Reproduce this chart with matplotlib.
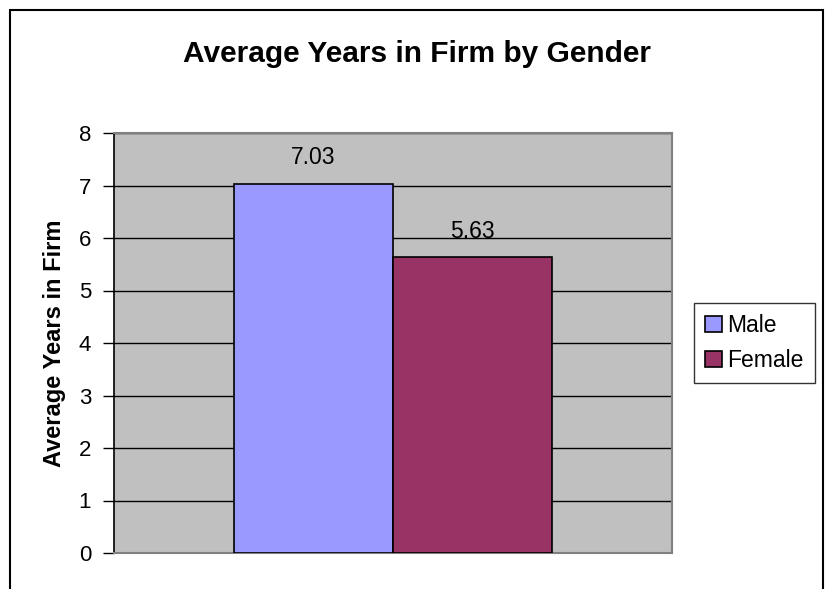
import numpy as np
import matplotlib
matplotlib.use("Agg")
import matplotlib.pyplot as plt
from matplotlib.patches import Rectangle

# data
genders = ["Male", "Female"]
avg_years = [7.03, 5.63]
bar_colors = ["#9999FF", "#993366"]
yticks = np.arange(0, 9)

plt.rcParams['font.family'] = ['Liberation Sans', 'DejaVu Sans']

fig = plt.figure(figsize=(8.25, 5.89), dpi=100)
ax = fig.add_axes([114/825, 1-553/589, (672-114)/825, (553-133)/589])
ax.set_facecolor("#C0C0C0")

# single category, clustered bars (gap width ~75%)
bw = 1/1.75/len(genders)
xs = (np.arange(len(genders)) - (len(genders)-1)/2) * bw
bars = ax.bar(xs, avg_years, width=bw, color=bar_colors, edgecolor="black",
              linewidth=1.2, label=genders, zorder=3)
for b, v in zip(bars, avg_years):
    ax.annotate("%.2f" % v, (b.get_x()+b.get_width()/2, v), xytext=(0, 19),
                textcoords="offset points", ha="center", va="center", fontsize=16.5)

ax.set_xlim(-0.5, 0.5)
ax.set_ylim(0, 8)
ax.set_yticks(yticks)
ax.set_yticklabels([str(t) for t in yticks], fontsize=16)
ax.set_xticks([])
ax.tick_params(axis="y", direction="out", length=8, width=1, pad=8.5, color="black")
ax.grid(axis="y", color="black", linewidth=1, zorder=1)
ax.set_axisbelow(True)

for s in ["top", "right", "bottom"]:
    ax.spines[s].set_color("#808080")
    ax.spines[s].set_linewidth(1.5)
ax.spines["left"].set_color("black")
ax.spines["left"].set_linewidth(1.2)

ax.set_ylabel("Average Years in Firm", fontsize=17, fontweight="bold", labelpad=9)

fig.text(417/825, 1-54/589, "Average Years in Firm by Gender", ha="center", va="center",
         fontsize=21.5, fontweight="bold")

leg = fig.legend(handles=list(bars), labels=genders, loc="upper left",
                 bbox_to_anchor=(694/825, 1-303/589), fontsize=16.5, frameon=True,
                 fancybox=False, edgecolor="black", handlelength=0.7, handleheight=0.7,
                 handletextpad=0.25, labelspacing=0.5, borderpad=0.5, borderaxespad=0)
leg.get_frame().set_linewidth(1)

# outer chart border
fig.patches.append(Rectangle((10/825, -0.01), (823-10)/825, 1-10/589+0.01,
                             transform=fig.transFigure, fill=False,
                             edgecolor="black", linewidth=1.5))

plt.savefig("out.png", dpi=100)
